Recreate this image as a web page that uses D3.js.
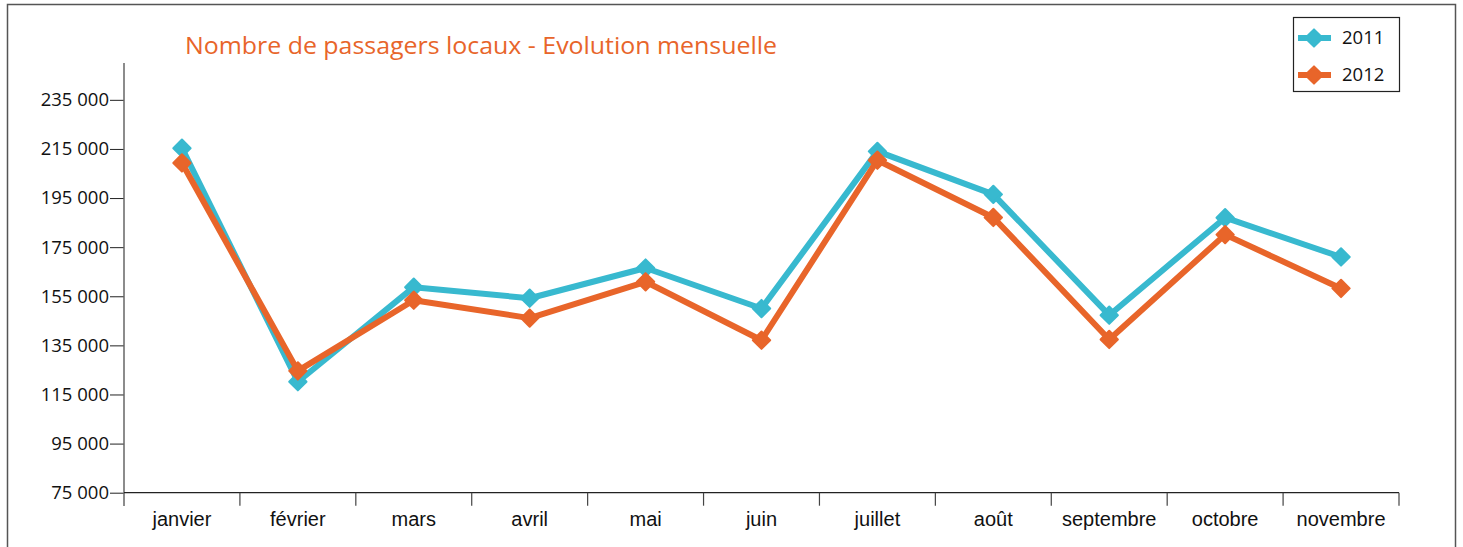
<!DOCTYPE html>
<html>
<head>
<meta charset="utf-8">
<script src="https://cdn.jsdelivr.net/npm/d3@7"></script>
<style>
  body { margin: 0; background: #fff; }
  svg { display: block; }
  text { font-family: "Open Sans", "Noto Sans", sans-serif; }
</style>
</head>
<body>
<div id="chart"></div>
<script>
const months = ["janvier", "février", "mars", "avril", "mai", "juin", "juillet", "août", "septembre", "octobre", "novembre"];
const values2011 = [215300, 120200, 158700, 154200, 166500, 150000, 214000, 196500, 147300, 187000, 171000];
const values2012 = [209300, 124600, 153400, 146100, 160900, 137100, 210400, 187100, 137400, 180100, 158200];
const yTicks = [75000, 95000, 115000, 135000, 155000, 175000, 195000, 215000, 235000];
const seriesNames = ["2011", "2012"];

const colors = { "2011": "#38b9cf", "2012": "#e8652a" };

const width = 1463, height = 547;

const svg = d3.select("#chart").append("svg")
  .attr("width", width)
  .attr("height", height);

// outer frame
svg.append("rect")
  .attr("x", 7.5).attr("y", 4.5)
  .attr("width", 1448).attr("height", 560)
  .attr("fill", "none")
  .attr("stroke", "#555")
  .attr("stroke-width", 1.5);

const x = d3.scaleBand()
  .domain(months)
  .range([124, 1399]);

const y = d3.scaleLinear()
  .domain([75000, 250000])
  .range([492.7, 63]);

const fmt = (d) => d3.format(",")(d).replace(/,/g, " ");

// y axis
const yAxis = svg.append("g")
  .attr("transform", "translate(124,0)")
  .call(d3.axisLeft(y).tickValues(yTicks).tickSize(14).tickPadding(1).tickFormat(fmt));
yAxis.select(".domain").remove();
yAxis.selectAll("text").attr("font-size", 18.5).attr("fill", "#111");
yAxis.selectAll("line").attr("stroke", "#222");

svg.append("line")
  .attr("x1", 124).attr("x2", 124)
  .attr("y1", 63).attr("y2", 506)
  .attr("stroke", "#666").attr("stroke-width", 1.5);

// x axis
svg.append("line")
  .attr("x1", 124).attr("x2", 1399)
  .attr("y1", y(75000)).attr("y2", y(75000))
  .attr("stroke", "#222").attr("stroke-width", 1.2);

const bounds = months.map((m) => x(m)).concat([x.range()[1]]);
svg.selectAll(".xtick")
  .data(bounds.slice(1))
  .enter()
  .append("line")
  .attr("x1", (d) => d).attr("x2", (d) => d)
  .attr("y1", y(75000)).attr("y2", y(75000) + 13)
  .attr("stroke", "#444").attr("stroke-width", 1.2);

svg.selectAll(".xlabel")
  .data(months)
  .enter()
  .append("text")
  .attr("x", (d) => x(d) + x.bandwidth() / 2)
  .attr("y", 526)
  .attr("text-anchor", "middle")
  .style("font-family", "'Liberation Sans', Arial, sans-serif")
  .attr("font-size", 20)
  .attr("fill", "#111")
  .text((d) => d);

// title
svg.append("text")
  .attr("x", 185)
  .attr("y", 54)
  .attr("font-size", 24)
  .attr("fill", "#e8652a")
  .attr("textLength", 592)
  .attr("lengthAdjust", "spacingAndGlyphs")
  .text("Nombre de passagers locaux - Evolution mensuelle");

// lines
const series = [
  { name: "2011", values: values2011 },
  { name: "2012", values: values2012 },
];

const line = d3.line()
  .x((d, i) => x(months[i]) + x.bandwidth() / 2)
  .y((d) => y(d));

const diamond = d3.symbol().type(d3.symbolSquare).size(150);

series.forEach((s) => {
  svg.append("path")
    .datum(s.values)
    .attr("d", line)
    .attr("fill", "none")
    .attr("stroke", colors[s.name])
    .attr("stroke-width", 6)
    .attr("stroke-linejoin", "round");

  svg.selectAll(".pt" + s.name)
    .data(s.values)
    .enter()
    .append("path")
    .attr("d", diamond)
    .attr("transform", (d, i) => `translate(${x(months[i]) + x.bandwidth() / 2},${y(d)}) rotate(45)`)
    .attr("fill", colors[s.name])
    .attr("stroke", colors[s.name])
    .attr("stroke-width", 2)
    .attr("stroke-linejoin", "round");
});

// legend
const legend = svg.append("g");
legend.append("rect")
  .attr("x", 1293.5).attr("y", 17.5)
  .attr("width", 106).attr("height", 74)
  .attr("fill", "#fff")
  .attr("stroke", "#222")
  .attr("stroke-width", 1.2);

seriesNames.forEach((name, i) => {
  const ly = 38 + i * 37;
  legend.append("line")
    .attr("x1", 1298).attr("x2", 1331)
    .attr("y1", ly).attr("y2", ly)
    .attr("stroke", colors[name])
    .attr("stroke-width", 6);
  legend.append("path")
    .attr("d", diamond)
    .attr("transform", `translate(1314,${ly}) rotate(45)`)
    .attr("fill", colors[name])
    .attr("stroke", colors[name])
    .attr("stroke-width", 2)
    .attr("stroke-linejoin", "round");
  legend.append("text")
    .attr("x", 1342)
    .attr("y", ly + 6)
    .attr("font-size", 18.5)
    .attr("fill", "#111")
    .text(name);
});
</script>
</body>
</html>
